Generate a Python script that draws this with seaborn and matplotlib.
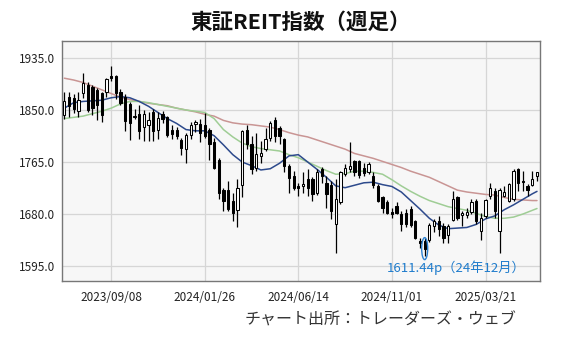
import numpy as np
import pandas as pd
import matplotlib
matplotlib.use("Agg")
import matplotlib.pyplot as plt
from matplotlib.patches import Ellipse
import seaborn as sns

# Weekly candles (Friday closes) of the TSE REIT index
first_week = "2023-06-30"

opens = [1842, 1872, 1870, 1848, 1877, 1891, 1888, 1882, 1877, 1880,
         1906, 1906, 1880, 1872, 1860, 1838, 1844, 1822, 1826, 1847,
         1818, 1843, 1838, 1818, 1817, 1801, 1786, 1809, 1827, 1827,
         1826, 1818, 1797, 1769, 1720, 1719, 1701, 1687, 1728, 1818,
         1794, 1756, 1775, 1786, 1805, 1834, 1821, 1802, 1758, 1742,
         1725, 1726, 1737, 1737, 1715, 1754, 1731, 1727, 1663, 1699,
         1746, 1754, 1767, 1767, 1756, 1748, 1742, 1726, 1707, 1700,
         1683, 1693, 1680, 1682, 1688, 1669, 1636, 1636, 1638, 1660,
         1668, 1661, 1645, 1671, 1707, 1679, 1678, 1684, 1701, 1653,
         1677, 1709, 1718, 1652, 1710, 1701, 1704, 1754, 1734, 1726,
         1727, 1742]
highs = [1880, 1880, 1876, 1880, 1910, 1895, 1891, 1886, 1880, 1903,
         1922, 1908, 1884, 1876, 1863, 1852, 1858, 1850, 1846, 1852,
         1846, 1848, 1841, 1826, 1823, 1804, 1812, 1830, 1834, 1836,
         1845, 1821, 1805, 1772, 1723, 1734, 1715, 1737, 1818, 1825,
         1808, 1813, 1799, 1821, 1832, 1839, 1824, 1805, 1761, 1750,
         1731, 1749, 1753, 1740, 1754, 1757, 1742, 1734, 1737, 1750,
         1761, 1798, 1769, 1768, 1764, 1765, 1748, 1729, 1710, 1703,
         1690, 1699, 1685, 1689, 1693, 1671, 1641, 1641, 1666, 1672,
         1677, 1666, 1663, 1718, 1710, 1685, 1690, 1704, 1704, 1682,
         1705, 1731, 1723, 1723, 1726, 1731, 1754, 1756, 1750, 1729,
         1750, 1749]
lows = [1836, 1839, 1845, 1838, 1869, 1847, 1842, 1834, 1831, 1872,
        1898, 1868, 1858, 1815, 1801, 1836, 1803, 1800, 1800, 1800,
        1802, 1828, 1806, 1803, 1803, 1776, 1763, 1803, 1814, 1798,
        1805, 1769, 1753, 1705, 1685, 1685, 1669, 1658, 1707, 1786,
        1745, 1750, 1764, 1783, 1799, 1797, 1794, 1748, 1715, 1719,
        1709, 1715, 1710, 1701, 1711, 1731, 1690, 1672, 1617, 1696,
        1742, 1748, 1742, 1739, 1742, 1745, 1723, 1699, 1682, 1680,
        1674, 1680, 1652, 1658, 1658, 1639, 1625, 1611.44, 1634, 1650,
        1644, 1633, 1633, 1669, 1671, 1660, 1674, 1680, 1663, 1638,
        1674, 1704, 1674, 1617, 1707, 1699, 1701, 1718, 1718, 1710,
        1725, 1734]
closes = [1864, 1857, 1852, 1866, 1894, 1850, 1853, 1858, 1842, 1900,
          1903, 1878, 1862, 1832, 1829, 1841, 1816, 1843, 1833, 1816,
          1837, 1836, 1809, 1810, 1808, 1788, 1809, 1826, 1831, 1813,
          1808, 1794, 1756, 1715, 1701, 1688, 1682, 1723, 1816, 1794,
          1753, 1778, 1780, 1803, 1828, 1808, 1808, 1758, 1739, 1723,
          1722, 1729, 1723, 1712, 1748, 1742, 1712, 1685, 1704, 1748,
          1756, 1758, 1748, 1743, 1747, 1761, 1728, 1701, 1690, 1682,
          1680, 1682, 1663, 1663, 1662, 1641, 1633, 1622, 1662, 1668,
          1655, 1641, 1660, 1704, 1674, 1682, 1684, 1700, 1669, 1674,
          1703, 1723, 1685, 1720, 1716, 1729, 1750, 1731, 1732, 1719,
          1737, 1748]

# Moving averages, sampled every second week plus the final week
ma13 = [1853, 1862, 1864, 1865, 1866, 1870, 1872, 1870, 1864, 1856,
        1846, 1836, 1828, 1818, 1816, 1816, 1808, 1793, 1777, 1765,
        1759, 1752, 1754, 1763, 1775, 1777, 1765, 1753, 1740, 1726,
        1723, 1727, 1731, 1732, 1728, 1725, 1716, 1702, 1688, 1673,
        1662, 1656, 1657, 1658, 1663, 1672, 1677, 1687, 1695, 1704,
        1713, 1717]
ma26 = [1836, 1838, 1840, 1844, 1848, 1853, 1860, 1864, 1864, 1862,
        1859, 1856, 1853, 1850, 1848, 1846, 1836, 1818, 1806, 1796,
        1790, 1787, 1785, 1783, 1777, 1772, 1765, 1758, 1751, 1745,
        1746, 1750, 1750, 1748, 1745, 1736, 1726, 1717, 1709, 1702,
        1697, 1692, 1689, 1686, 1681, 1676, 1673, 1673, 1675, 1680,
        1686, 1689]
ma52 = [1902, 1899, 1895, 1889, 1883, 1877, 1871, 1867, 1864, 1861,
        1859, 1857, 1853, 1850, 1847, 1843, 1840, 1833, 1829, 1827,
        1826, 1824, 1822, 1818, 1813, 1809, 1806, 1801, 1796, 1791,
        1786, 1779, 1775, 1771, 1766, 1761, 1756, 1750, 1745, 1740,
        1733, 1726, 1719, 1716, 1714, 1712, 1711, 1707, 1704, 1703,
        1702, 1702]

y_ticks = [1595.0, 1680.0, 1765.0, 1850.0, 1935.0]
x_tick_labels = ["2023/09/08", "2024/01/26", "2024/06/14", "2024/11/01", "2025/03/21"]

title = "東証REIT指数（週足）"
source = "チャート出所：トレーダーズ・ウェブ"
low_period = "24年12月"

# ---------------------------------------------------------------------------
sns.set_style("white")
plt.rcParams["font.family"] = ["Noto Sans CJK JP", "DejaVu Sans"]

weeks = pd.date_range(first_week, periods=len(closes), freq="7D")
df = pd.DataFrame({"date": weeks, "open": opens, "high": highs,
                   "low": lows, "close": closes})
ma_dates = weeks[::2].append(weeks[-1:])
ma_df = pd.DataFrame({"date": ma_dates, "ma13": ma13, "ma26": ma26, "ma52": ma52})

fig = plt.figure(figsize=(5.62, 3.41), dpi=100)
ax = fig.add_axes([62 / 562, 60 / 341, 478 / 562, 240 / 341])
ax.set_facecolor("#f7f7f7")

# moving averages
sns.lineplot(data=ma_df, x="date", y="ma52", color="#c99594", lw=1.1, ax=ax, zorder=2)
sns.lineplot(data=ma_df, x="date", y="ma26", color="#9fcd95", lw=1.1, ax=ax, zorder=2)
sns.lineplot(data=ma_df, x="date", y="ma13", color="#2d4a8c", lw=1.1, ax=ax, zorder=2)

# candles
up = df["close"] >= df["open"]
ax.vlines(df["date"], df["low"], df["high"], color="black", lw=0.9, zorder=3)
body_lo = np.minimum(df["open"], df["close"])
body_h = np.maximum((df["close"] - df["open"]).abs(), 0.8)
ax.bar(df["date"], body_h, bottom=body_lo, width=3.4,
       color=np.where(up, "white", "black"), edgecolor="black",
       linewidth=0.75, zorder=4)

# lowest week marker
i_low = int(df["low"].idxmin())
low_date = df["date"][i_low]
low_val = df["low"][i_low]
ax.add_patch(Ellipse((low_date, low_val + 12), width=9, height=36,
                     fill=False, edgecolor="#2f83d2", lw=1.0, zorder=5))
ax.annotate(f"{low_val:.2f}p（{low_period}）", xy=(low_date, low_val),
            xytext=(31, -12), textcoords="offset pixels",
            ha="center", va="center", fontsize=9.5, color="#1f7ccc", zorder=6)

# axes
ax.set_xlim(weeks[0] - pd.Timedelta(days=3.5), weeks[-1] + pd.Timedelta(days=4.5))
ax.set_ylim(1570.5, 1962.8)
ax.set_yticks(y_ticks)
ax.set_yticklabels([f"{v:.1f}" for v in y_ticks])
ax.set_xticks(pd.to_datetime(x_tick_labels, format="%Y/%m/%d"))
ax.set_xticklabels(x_tick_labels)
ax.tick_params(axis="both", length=0, labelsize=8.5, colors="#222222")
ax.tick_params(axis="x", pad=7)
ax.tick_params(axis="y", pad=5)
ax.set_xlabel("")
ax.set_ylabel("")
ax.grid(True, color="#d6d6d6", lw=0.9)
ax.set_axisbelow(True)
for s in ax.spines.values():
    s.set_color("#777777")
    s.set_linewidth(1.0)

fig.text(301 / 562, 1 - 22 / 341, title, ha="center", va="center",
         fontsize=15.5, fontweight="bold", color="#111111")
fig.text(516 / 562, 1 - 320 / 341, source, ha="right", va="center",
         fontsize=11.5, color="#333333")

fig.savefig("out.png", dpi=100, facecolor="white")
